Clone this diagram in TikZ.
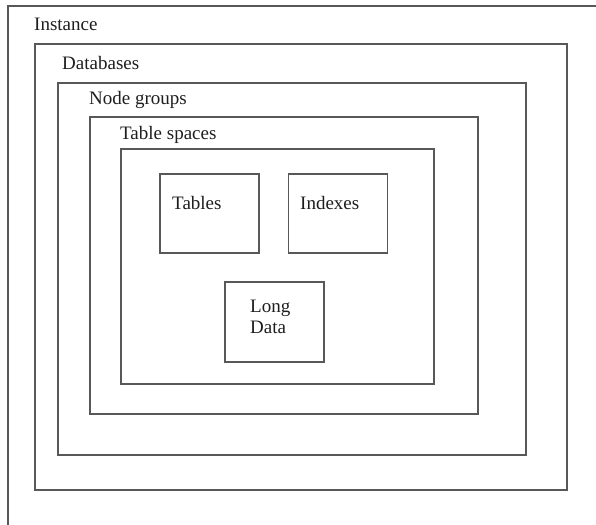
\documentclass[tikz,border=0pt]{standalone}
\usepackage{fontspec}
\setmainfont{Liberation Serif}
\usepackage{tikz}
\usetikzlibrary{positioning,calc}
\definecolor{frameline}{RGB}{88,88,88}
\definecolor{labeltext}{RGB}{30,30,30}

\begin{document}
\begin{tikzpicture}[x=1pt,y=-1pt,
    layer/.style={draw=frameline,line width=1.5pt,inner sep=0pt,outer sep=0pt},
    part/.style={draw=frameline,line width=1.5pt,inner sep=0pt,outer sep=0pt,
      minimum width=99pt,minimum height=79pt},
    tag/.style={anchor=base west,inner sep=0pt,text=labeltext,
      font=\fontsize{19}{21}\selectfont,align=left}
  ]
    \useasboundingbox (0,0) rectangle (596,524);
    \clip (0,0) rectangle (596,524);

    \node[layer,minimum width=620pt,minimum height=540pt,anchor=north west] (inst) at (8,6) {};
    \node[layer,minimum width=532pt,minimum height=446pt] (db) at (301,267) {};
    \node[layer,minimum width=468pt,minimum height=372pt] (ng) at (292,269) {};
    \node[layer,minimum width=388pt,minimum height=297pt] (ts) at (284,265.5) {};
    \node[layer,minimum width=313pt,minimum height=235pt] (tsin) at (277.5,266.5) {};

    \node[part] (tables) at (209.5,213.5) {};
    \node[part] (indexes) at (338,213.5) {};
    \node[part,minimum height=80pt] (longdata) at (274.5,322) {};

    \node[tag] (instlbl) at (34,31) {Instance};
    \node[tag] (dblbl) at (62,70) {Databases};
    \node[tag] (nglbl) at (89,105) {Node groups};
    \node[tag] (tslbl) at (120,139) {Table spaces};
    \node[tag] (tablbl) at (172,209) {Tables};
    \node[tag] (idxlbl) at (300,209) {Indexes};
    \node[tag] (ldlbl) at (250,333) {Long\\Data};
  \end{tikzpicture}
\end{document}
